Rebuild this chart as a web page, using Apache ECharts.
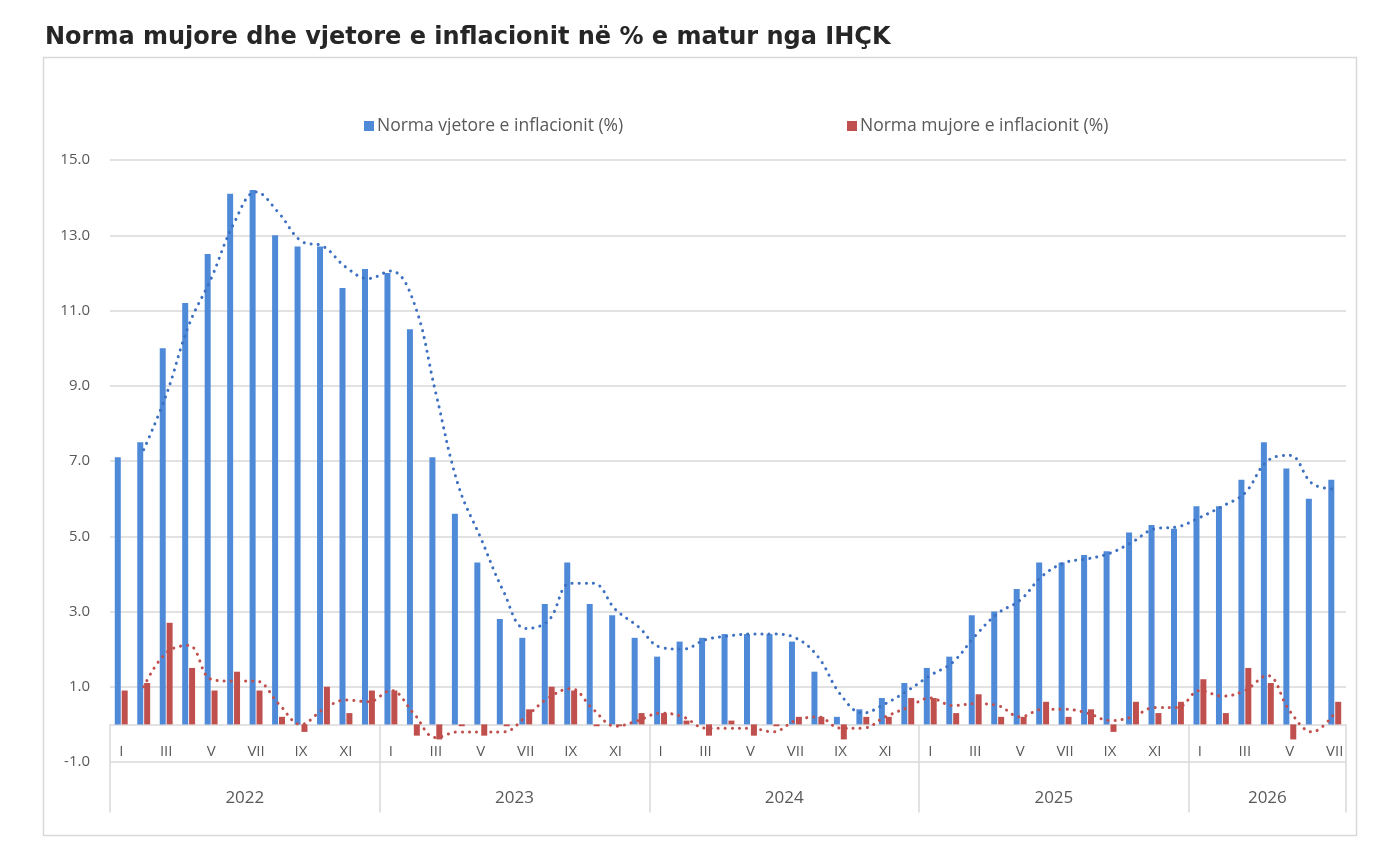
<!DOCTYPE html>
<html>
<head>
<meta charset="utf-8">
<title>Norma mujore dhe vjetore e inflacionit</title>
<style>
  html, body { margin: 0; padding: 0; background: #fff; }
  #main { width: 1400px; height: 852px; }
</style>
</head>
<body>
<div id="main"></div>
<script src="https://cdn.jsdelivr.net/npm/echarts@6/dist/echarts.min.js"></script>
<script>
// vitet dhe muajt (boshti X)
var years = ['2022', '2023', '2024', '2025', '2026'];
var monthsPerYear = [12, 12, 12, 12, 7];
var monthNames = ['I', 'II', 'III', 'IV', 'V', 'VI', 'VII', 'VIII', 'IX', 'X', 'XI', 'XII'];

// Norma vjetore e inflacionit (%)
var annual = [
  7.1, 7.5, 10.0, 11.2, 12.5, 14.1, 14.2, 13.0, 12.7, 12.7, 11.6, 12.1,
  12.0, 10.5, 7.1, 5.6, 4.3, 2.8, 2.3, 3.2, 4.3, 3.2, 2.9, 2.3,
  1.8, 2.2, 2.3, 2.4, 2.4, 2.4, 2.2, 1.4, 0.2, 0.4, 0.7, 1.1,
  1.5, 1.8, 2.9, 3.0, 3.6, 4.3, 4.3, 4.5, 4.6, 5.1, 5.3, 5.2,
  5.8, 5.8, 6.5, 7.5, 6.8, 6.0, 6.5
];

// Norma mujore e inflacionit (%)
var monthly = [
  0.9, 1.1, 2.7, 1.5, 0.9, 1.4, 0.9, 0.2, -0.2, 1.0, 0.3, 0.9,
  0.9, -0.3, -0.4, -0.05, -0.3, -0.05, 0.4, 1.0, 0.9, -0.05, -0.05, 0.3,
  0.3, 0.1, -0.3, 0.1, -0.3, -0.05, 0.2, 0.2, -0.4, 0.2, 0.2, 0.7,
  0.7, 0.3, 0.8, 0.2, 0.2, 0.6, 0.2, 0.4, -0.2, 0.6, 0.3, 0.6,
  1.2, 0.3, 1.5, 1.1, -0.4, 0.0, 0.6
];

// vijat e trendit (me pika)
var annualTrend = [
  null, 7.3, 8.75, 10.6, 11.85, 13.3, 14.15, 13.6, 12.85, 12.7, 12.15, 11.85,
  12.05, 11.25, 8.8, 6.35, 4.95, 3.55, 2.55, 2.75, 3.75, 3.75, 3.05, 2.6,
  2.05, 2.0, 2.25, 2.35, 2.4, 2.4, 2.3, 1.8, 0.8, 0.3, 0.55, 0.9,
  1.3, 1.65, 2.35, 2.95, 3.3, 3.95, 4.3, 4.4, 4.55, 4.85, 5.2, 5.25,
  5.5, 5.8, 6.15, 7.0, 7.15, 6.4, 6.25
];
var monthlyTrend = [
  null, 1.0, 1.9, 2.1, 1.2, 1.15, 1.15, 0.55, 0.0, 0.4, 0.65, 0.6,
  0.9, 0.3, -0.35, -0.2, -0.2, -0.2, 0.2, 0.7, 0.95, 0.4, -0.05, 0.1,
  0.3, 0.2, -0.1, -0.1, -0.1, -0.2, 0.1, 0.2, -0.1, -0.1, 0.2, 0.45,
  0.7, 0.5, 0.55, 0.5, 0.2, 0.4, 0.4, 0.3, 0.1, 0.2, 0.45, 0.45,
  0.9, 0.75, 0.9, 1.3, 0.35, -0.2, 0.3
];

var yMin = -1, yMax = 15, yStep = 2;

// kategorite e muajve
var categories = [];
years.forEach(function (y, i) {
  for (var m = 0; m < monthsPerYear[i]; m++) categories.push(y + '-' + monthNames[m]);
});

// boshti i viteve: pika ne gjysme-muaj, etiketa ne mes te cdo viti
var yearSlots = [];
for (var k = 0; k <= categories.length * 2; k++) yearSlots.push('');
var start = 0;
years.forEach(function (y, i) {
  yearSlots[start * 2 + monthsPerYear[i]] = y;
  start += monthsPerYear[i];
});

var gray = '#d9d9d9';
var txt = '#595959';
var font = 'Open Sans';

var gridTop = 160, gridBottom = 90;
var plotH = 852 - gridTop - gridBottom;
// boshti i muajve qendron te vlera 0
var zeroOffset = -plotH * (0 - yMin) / (yMax - yMin);

var myChart = echarts.init(document.getElementById('main'));
myChart.setOption({
  backgroundColor: '#fff',
  animation: false,
  title: {
    text: 'Norma mujore dhe vjetore e inflacionit në % e matur nga IHÇK',
    left: 40, top: 21,
    textStyle: { fontFamily: 'DejaVu Sans', fontWeight: 'bold', fontSize: 24, color: '#262626' }
  },
  graphic: [{
    type: 'rect', silent: true, z: -1,
    shape: { x: 43.5, y: 57.5, width: 1313, height: 778 },
    style: { fill: 'none', stroke: gray, lineWidth: 1.5 }
  }],
  legend: [{
    data: ['Norma vjetore e inflacionit (%)'],
    left: 359, top: 112,
    itemWidth: 10, itemHeight: 10, itemGap: 4, icon: 'rect',
    textStyle: { fontFamily: font, fontSize: 17.5, color: txt, padding: [0, 0, 0, -2] }
  }, {
    data: ['Norma mujore e inflacionit (%)'],
    left: 842, top: 112,
    itemWidth: 10, itemHeight: 10, itemGap: 4, icon: 'rect',
    textStyle: { fontFamily: font, fontSize: 17.5, color: txt, padding: [0, 0, 0, -2] }
  }],
  grid: { left: 110, right: 54, top: gridTop, bottom: gridBottom },
  xAxis: [{
    type: 'category',
    data: categories,
    position: 'bottom',
    offset: zeroOffset,
    axisLine: { onZero: false, lineStyle: { color: gray, width: 1.5 } },
    axisTick: {
      show: true, length: 88,
      interval: function (index) { return index % 12 === 0; },
      lineStyle: { color: gray, width: 1.5 }
    },
    axisLabel: {
      interval: 1, margin: 20,
      fontFamily: font, fontSize: 15, color: txt,
      formatter: function (v) { return v.split('-')[1]; }
    }
  }, {
    type: 'category',
    data: yearSlots,
    position: 'bottom',
    boundaryGap: false,
    axisLine: { show: false, onZero: false },
    axisTick: { show: false },
    axisLabel: { interval: 0, margin: 28, fontFamily: font, fontSize: 17, color: txt }
  }],
  yAxis: {
    type: 'value',
    min: yMin, max: yMax, interval: yStep,
    axisLine: { show: false },
    axisTick: { show: false },
    splitLine: { lineStyle: { color: gray, width: 1.5 } },
    axisLabel: {
      margin: 20, fontFamily: font, fontSize: 15, color: txt,
      formatter: function (v) { return v.toFixed(1); }
    }
  },
  series: [{
    name: 'Norma vjetore e inflacionit (%)',
    type: 'bar',
    data: annual,
    barWidth: 6,
    barGap: '15%',
    itemStyle: { color: '#4f8ad8' }
  }, {
    name: 'Norma mujore e inflacionit (%)',
    type: 'bar',
    data: monthly,
    barWidth: 6,
    itemStyle: { color: '#c0504d' }
  }, {
    name: 'trend vjetor',
    type: 'line',
    data: annualTrend,
    smooth: 0.4,
    showSymbol: false,
    z: 5,
    lineStyle: { color: '#3d70c0', width: 3, type: [0.1, 7], cap: 'round' }
  }, {
    name: 'trend mujor',
    type: 'line',
    data: monthlyTrend,
    smooth: 0.4,
    showSymbol: false,
    z: 5,
    lineStyle: { color: '#c0504d', width: 3, type: [0.1, 7], cap: 'round' }
  }]
});
</script>
</body>
</html>
